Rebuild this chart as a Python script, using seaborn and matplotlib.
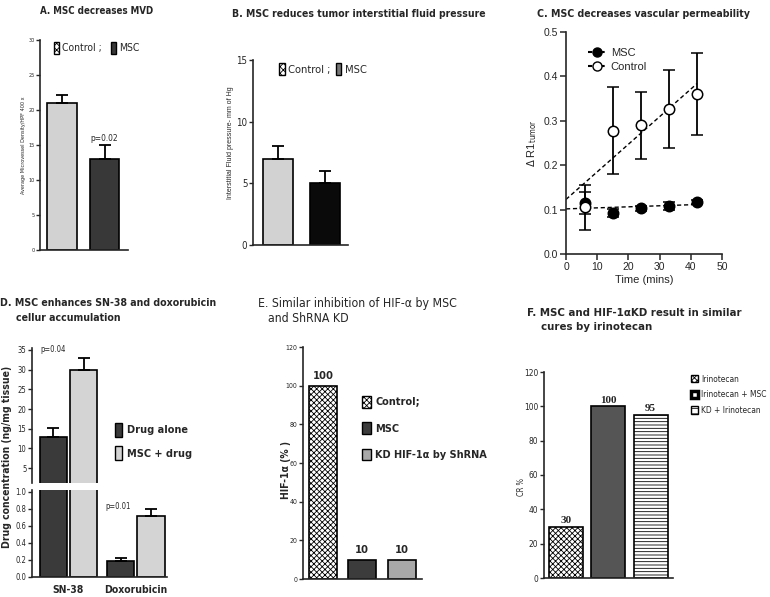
import numpy as np
import pandas as pd
import matplotlib
matplotlib.use("Agg")
import matplotlib.pyplot as plt
from matplotlib.patches import Patch
from matplotlib.lines import Line2D
import seaborn as sns

# A. microvessel density
mvd_groups = ["Control", "MSC"]
mvd_mean = [21, 13]
mvd_err = [1.1, 2.0]

# B. interstitial fluid pressure
ifp_groups = ["Control", "MSC"]
ifp_mean = [7, 5]
ifp_err = [1.0, 1.0]

# C. vascular permeability
perm_time = [6, 15, 24, 33, 42]
perm_msc = [0.115, 0.092, 0.103, 0.109, 0.117]
perm_msc_err = [0.025, 0.009, 0.006, 0.009, 0.005]
perm_ctrl = [0.105, 0.278, 0.290, 0.327, 0.360]
perm_ctrl_err = [0.050, 0.097, 0.075, 0.088, 0.093]

# D. drug accumulation
drug_names = ["SN-38", "SN-38", "Doxorubicin", "Doxorubicin"]
drug_treat = ["Drug alone", "MSC + drug", "Drug alone", "MSC + drug"]
drug_conc = [13, 30, 0.19, 0.71]
drug_err = [2.2, 3.0, 0.03, 0.09]

# E. HIF-1a
hif_groups = ["Control;", "MSC", "KD HIF-1α by ShRNA"]
hif_pct = [100, 10, 10]

# F. complete responses
cr_groups = ["Irinotecan", "Irinotecan + MSC", "KD + Irinotecan"]
cr_pct = [30, 100, 95]

sns.set_style("ticks")
plt.rcParams['font.family'] = ['DejaVu Sans']
plt.rcParams['font.stretch'] = 'condensed'
plt.rcParams['hatch.linewidth'] = 0.6
plt.rcParams['axes.linewidth'] = 1.2
sans = ['Liberation Sans', 'DejaVu Sans']

W, H = 770, 597
fig = plt.figure(figsize=(W / 100, H / 100), dpi=100)


def box(l, t, r, b):
    # axes from pixel edges
    return fig.add_axes([l / W, 1 - b / H, (r - l) / W, (b - t) / H])


def ftext(x, y, s, **kw):
    fig.text(x / W, 1 - y / H, s, **kw)


def add_err(ax, bars, errs, lw=1.3, cap=4):
    for p, e in zip(bars, errs):
        x = p.get_x() + p.get_width() / 2
        ax.errorbar(x, p.get_height(), yerr=[[0], [e]], color='k', lw=lw,
                    capsize=cap, capthick=lw)


def style(ax, size):
    sns.despine(ax=ax)
    ax.tick_params(axis='y', labelsize=size, length=3, width=1, pad=1)
    ax.tick_params(axis='x', bottom=False, labelbottom=False)
    ax.set_xlabel('')
    ax.set_ylabel('')


# ---------------- A ----------------
axA = box(40, 40, 128, 250)
sns.barplot(x=mvd_groups, y=mvd_mean, hue=mvd_groups, palette=['#d2d2d2', '#383838'],
            width=0.7, edgecolor='black', linewidth=1.2, legend=False, ax=axA)
add_err(axA, axA.patches, mvd_err)
axA.set_xlim(-0.52, 1.55)
axA.set_ylim(0, 30)
axA.set_yticks(range(0, 31, 5))
style(axA, 4)
axA.text(1, 15.3, 'p=0.02', ha='center', va='bottom', fontsize=6)
ftext(40, 11, 'A. MSC decreases MVD', fontsize=7, fontweight='bold', va='center')
ftext(24, 145, 'Average Microvessel Density/HPF 400 x', rotation=90, fontsize=4,
      ha='center', va='center')
hA = [Patch(facecolor='white', edgecolor='black', hatch='xxxxx'),
      Patch(facecolor='#383838', edgecolor='black')]
fig.legend(hA, ['Control ;', 'MSC'], ncol=2, frameon=False, fontsize=7.5,
           handlelength=0.45, handleheight=1.3, handletextpad=0.3, columnspacing=0.9,
           loc='center left', bbox_to_anchor=(45 / W, 1 - 48 / H))

# ---------------- B ----------------
axB = box(253, 60, 348, 245)
sns.barplot(x=ifp_groups, y=ifp_mean, hue=ifp_groups, palette=['#d2d2d2', '#0a0a0a'],
            width=0.64, edgecolor='black', linewidth=1.2, legend=False, ax=axB)
add_err(axB, axB.patches, ifp_err)
axB.set_xlim(-0.53, 1.49)
axB.set_ylim(0, 15)
axB.set_yticks([0, 5, 10, 15])
style(axB, 7)
ftext(232, 14, 'B. MSC reduces tumor interstitial fluid pressure', fontsize=7.5,
      fontweight='bold', va='center')
ftext(231, 143, 'Interstitial Fluid pressure- mm of Hg', rotation=90, fontsize=5,
      family=sans, ha='center', va='center')
hB = [Patch(facecolor='white', edgecolor='black', hatch='xxxxx'),
      Patch(facecolor='#777777', edgecolor='black')]
fig.legend(hB, ['Control ;', 'MSC'], ncol=2, frameon=False, fontsize=8,
           handlelength=0.5, handleheight=1.3, handletextpad=0.3, columnspacing=0.5,
           loc='center left', bbox_to_anchor=(269 / W, 1 - 69 / H))

# ---------------- C ----------------
axC = box(566, 32, 722, 254)
for yv, ev, face in [(perm_msc, perm_msc_err, 'black'), (perm_ctrl, perm_ctrl_err, 'white')]:
    axC.errorbar(perm_time, yv, yerr=ev, fmt='o', color='black', mfc=face, mec='black',
                 ms=7.5, mew=1.1, capsize=4, lw=1.3, capthick=1.3, zorder=3)
    k, b0 = np.polyfit(perm_time, yv, 1)
    xs = np.array([0, max(perm_time)])
    sns.lineplot(x=xs, y=k * xs + b0, ax=axC, color='black', lw=1, ls=(0, (3, 2)), zorder=2)
axC.set_xlim(0, 50)
axC.set_ylim(0, 0.5)
axC.set_xticks(range(0, 51, 10))
axC.set_yticks(np.arange(0, 0.51, 0.1))
axC.yaxis.set_major_formatter(matplotlib.ticker.FormatStrFormatter('%.1f'))
sns.despine(ax=axC)
axC.tick_params(labelsize=7.5, length=4, width=1.1, pad=2)
for t in axC.get_xticklabels() + axC.get_yticklabels():
    t.set_family(sans)
axC.set_xlabel('Time (mins)', fontsize=8, family=sans, labelpad=2)
axC.set_ylabel('$\\Delta$ R1$_{\\mathrm{tumor}}$', fontsize=8, family=sans, labelpad=3)
hC = [Line2D([], [], color='black', ls=(0, (2, 1)), marker='o', mfc='black', ms=6.5),
      Line2D([], [], color='black', ls=(0, (2, 1)), marker='o', mfc='white', ms=6.5)]
axC.legend(hC, ['MSC', 'Control'], frameon=False, prop={'family': sans, 'size': 8},
           handlelength=1.6, handletextpad=0.4, labelspacing=0.4,
           loc='upper left', bbox_to_anchor=(0.08, 0.975))
ftext(537, 14, 'C. MSC decreases vascular permeability', fontsize=7.6, fontweight='bold', va='center')

# ---------------- D ----------------
drug_df = pd.DataFrame({'drug': drug_names, 'treat': drug_treat,
                        'conc': drug_conc, 'err': drug_err})
treat_order = ['Drug alone', 'MSC + drug']
axDu = box(32, 348, 167, 483)
axDl = box(32, 490, 167, 577)
for ax in (axDu, axDl):
    sns.barplot(data=drug_df, x='drug', y='conc', hue='treat', hue_order=treat_order,
                palette=['#3a3a3a', '#d4d4d4'], width=0.9, gap=0.1, edgecolor='black',
                linewidth=1.2, legend=False, ax=ax)
    for cont, lvl in zip(ax.containers, treat_order):
        add_err(ax, cont, drug_df[drug_df.treat == lvl]['err'])
    ax.set_xlim(-0.54, 1.46)
    style(ax, 5.5)
axDu.set_ylim(1.2, 35.5)
axDu.set_yticks(range(5, 36, 5))
axDu.spines['bottom'].set_visible(False)
axDl.set_ylim(0, 1.02)
axDl.set_yticks(np.arange(0, 1.01, 0.2))
axDl.yaxis.set_major_formatter(matplotlib.ticker.FormatStrFormatter('%.1f'))
axDl.tick_params(axis='x', bottom=False, labelbottom=True, labelsize=7.5, pad=2)
for t in axDl.get_xticklabels():
    t.set_fontweight('bold')
axDu.text(-0.42, 35, 'p=0.04', fontsize=5.5, va='center')
axDl.text(0.55, 0.83, 'p=0.01', fontsize=5.5, va='center')
hD = [Patch(facecolor='#3a3a3a', edgecolor='black'), Patch(facecolor='#d4d4d4', edgecolor='black')]
fig.legend(hD, treat_order, frameon=False, prop={'size': 7.8, 'weight': 'bold', 'stretch': 'condensed'},
           handlelength=0.65, handleheight=1.6, handletextpad=0.5, labelspacing=0.9,
           loc='upper left', bbox_to_anchor=(105 / W, 1 - 413 / H))
ftext(0, 303, 'D. MSC enhances SN-38 and doxorubicin', fontsize=7.6, fontweight='bold', va='center')
ftext(16, 318, 'cellur accumulation', fontsize=7.6, fontweight='bold', va='center')
ftext(7, 457, 'Drug concentration (ng/mg tissue)', rotation=90, fontsize=7.5,
      fontweight='bold', ha='center', va='center')

# ---------------- E ----------------
axE = box(303, 347, 422, 579)
sns.barplot(x=hif_groups, y=hif_pct, hue=hif_groups,
            palette=['#ffffff', '#3c3c3c', '#a8a8a8'], width=0.71, edgecolor='black',
            linewidth=1.2, legend=False, ax=axE)
axE.patches[0].set_hatch('xxxxxx')
for p, v in zip(axE.patches, hif_pct):
    axE.text(p.get_x() + p.get_width() / 2, v + 2.5, str(v), ha='center', va='bottom',
             fontsize=8, fontweight='bold')
axE.set_xlim(-0.51, 2.52)
axE.set_ylim(0, 120)
axE.set_yticks(range(0, 121, 20))
style(axE, 5)
hE = [Patch(facecolor='white', edgecolor='black', hatch='xxxxxx'),
      Patch(facecolor='#3c3c3c', edgecolor='black'),
      Patch(facecolor='#a8a8a8', edgecolor='black')]
fig.legend(hE, hif_groups, frameon=False, prop={'size': 7.8, 'weight': 'bold', 'stretch': 'condensed'},
           handlelength=0.85, handleheight=1.3, handletextpad=0.4, labelspacing=1.35,
           loc='upper left', bbox_to_anchor=(352 / W, 1 - 386 / H))
ftext(258, 303, 'E. Similar inhibition of HIF-α by MSC', fontsize=8.8, va='center')
ftext(268, 318, 'and ShRNA KD', fontsize=8.8, va='center')
ftext(286, 470, 'HIF-1α (% )', rotation=90, fontsize=7.5, fontweight='bold',
      ha='center', va='center')

# ---------------- F ----------------
axF = box(544, 372, 673, 578)
sns.barplot(x=cr_groups, y=cr_pct, hue=cr_groups,
            palette=['#ffffff', '#555555', '#ffffff'], width=0.8, edgecolor='black',
            linewidth=1.2, legend=False, ax=axF)
axF.patches[0].set_hatch('xxxxxx')
axF.patches[2].set_hatch('-----')
for p, v in zip(axF.patches, cr_pct):
    axF.text(p.get_x() + p.get_width() / 2, v + 1, str(v), ha='center', va='bottom',
             fontsize=8, fontweight='bold', family=['Liberation Serif', 'DejaVu Serif'])
axF.set_xlim(-0.52, 2.53)
axF.set_ylim(0, 120)
axF.set_yticks(range(0, 121, 20))
style(axF, 6)
hF = [Patch(facecolor='white', edgecolor='black', hatch='xxxxxx'),
      Patch(facecolor='white', edgecolor='black', lw=2.5),
      Patch(facecolor='white', edgecolor='black', hatch='---')]
fig.legend(hF, cr_groups, frameon=False, fontsize=6,
           handlelength=0.9, handleheight=1.0, handletextpad=0.4, labelspacing=0.8,
           loc='upper left', bbox_to_anchor=(683 / W, 1 - 367 / H))
ftext(527, 313, 'F. MSC and HIF-1αKD result in similar', fontsize=8.2, fontweight='bold', va='center')
ftext(541, 327, 'cures by irinotecan', fontsize=8.2, fontweight='bold', va='center')
ftext(522, 487, 'CR %', rotation=90, fontsize=5.5, ha='center', va='center')

fig.savefig('out.png', dpi=100)
